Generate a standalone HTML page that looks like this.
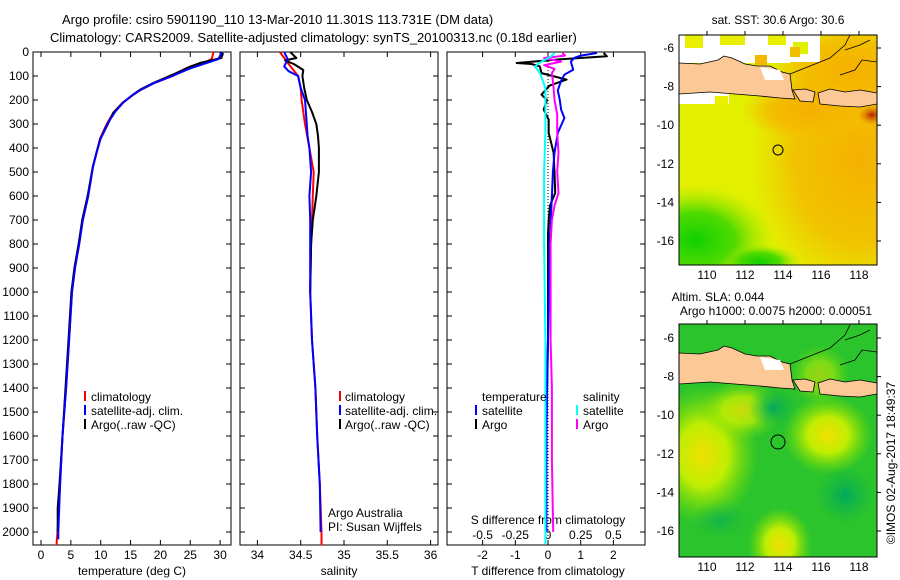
<!DOCTYPE html>
<html><head><meta charset="utf-8"><style>
body{margin:0;background:#fff;}
svg{display:block;font-family:"Liberation Sans",sans-serif;}
text{font-size:12px;fill:#000;}
</style></head><body>
<svg id="fig" width="900" height="580" viewBox="0 0 900 580">
<defs>
<clipPath id="m1clip"><rect x="679" y="35" width="198" height="230"/></clipPath>
<clipPath id="m2clip"><rect x="679" y="324" width="198" height="233"/></clipPath>
<clipPath id="p3clip"><rect x="447" y="52" width="198" height="493"/></clipPath>
<radialGradient id="gOr"><stop offset="0" stop-color="#f5b000"/><stop offset="0.6" stop-color="#f5b800" stop-opacity="0.8"/><stop offset="1" stop-color="#f5c000" stop-opacity="0"/></radialGradient>
<radialGradient id="gGr"><stop offset="0" stop-color="#10d000"/><stop offset="0.5" stop-color="#40d800" stop-opacity="0.9"/><stop offset="1" stop-color="#a0e800" stop-opacity="0"/></radialGradient>
<radialGradient id="gRed"><stop offset="0" stop-color="#b02000"/><stop offset="1" stop-color="#e07000" stop-opacity="0"/></radialGradient>
<radialGradient id="gYe"><stop offset="0" stop-color="#f0e000"/><stop offset="0.45" stop-color="#c8f000" stop-opacity="0.95"/><stop offset="1" stop-color="#80e000" stop-opacity="0"/></radialGradient>
<radialGradient id="gTe"><stop offset="0" stop-color="#00a860"/><stop offset="1" stop-color="#10b840" stop-opacity="0"/></radialGradient>
</defs>

<text x="62" y="24" style="font-size:13px">Argo profile: csiro 5901190_110 13-Mar-2010 11.301S 113.731E (DM data)</text>
<text x="50" y="42" style="font-size:13px">Climatology: CARS2009. Satellite-adjusted climatology: synTS_20100313.nc (0.18d earlier)</text>

<g id="p1"></g>
<g id="p2"></g>
<g id="p3"></g>

<g>
<rect x="84" y="391" width="2" height="10" fill="#f00"/><text x="91" y="401">climatology</text>
<rect x="84" y="405" width="2" height="10" fill="#00f"/><text x="91" y="415">satellite-adj. clim.</text>
<rect x="84" y="419" width="2" height="10" fill="#000"/><text x="91" y="429">Argo(..raw -QC)</text>
</g>
<g>
<rect x="339" y="391" width="2" height="10" fill="#f00"/><text x="345" y="401">climatology</text>
<rect x="339" y="405" width="2" height="10" fill="#00f"/><text x="345" y="415">satellite-adj. clim.</text>
<rect x="339" y="419" width="2" height="10" fill="#000"/><text x="345" y="429">Argo(..raw -QC)</text>
<text x="328" y="517">Argo Australia</text>
<text x="328" y="531">PI: Susan Wijffels</text>
</g>
<g>
<text x="482" y="401">temperature</text><text x="583" y="401">salinity</text>
<rect x="475" y="405" width="2" height="10" fill="#00f"/><text x="482" y="415">satellite</text>
<rect x="475" y="419" width="2" height="10" fill="#000"/><text x="482" y="429">Argo</text>
<rect x="576" y="405" width="2" height="10" fill="#0ff"/><text x="583" y="415">satellite</text>
<rect x="576" y="419" width="2" height="10" fill="#f0f"/><text x="583" y="429">Argo</text>
</g>

<!-- map 1 -->
<text x="778" y="24" text-anchor="middle">sat. SST: 30.6 Argo: 30.6</text>
<g clip-path="url(#m1clip)">
<rect x="679" y="35" width="198" height="230" fill="#e2f000"/>
<ellipse cx="860" cy="160" rx="110" ry="140" fill="url(#gOr)"/>
<ellipse cx="850" cy="70" rx="80" ry="50" fill="url(#gOr)"/>
<ellipse cx="810" cy="110" rx="70" ry="30" fill="url(#gOr)"/>
<ellipse cx="872" cy="115" rx="14" ry="10" fill="url(#gRed)"/>
<ellipse cx="695" cy="240" rx="80" ry="55" fill="url(#gGr)"/>
<ellipse cx="760" cy="262" rx="40" ry="18" fill="url(#gGr)"/>
<path d="M679,35 H790 V63 H679Z" fill="#fff"/>
<rect x="685" y="35" width="18" height="13" fill="#e8f000"/><rect x="720" y="35" width="25" height="10" fill="#e8f000"/>
<rect x="768" y="35" width="18" height="10" fill="#e8f000"/><rect x="790" y="42" width="22" height="12" fill="#d8f000"/>
<rect x="790" y="35" width="30" height="27" fill="#fff"/><rect x="793" y="42" width="15" height="12" fill="#dcf000"/>
<rect x="755" y="55" width="12" height="10" fill="#f5b800"/><rect x="790" y="47" width="10" height="10" fill="#f0c000"/>
<rect x="679" y="82" width="50" height="22" fill="#fff"/>
<rect x="715" y="96" width="13" height="8" fill="#e8f000"/>
</g>
<g id="land1" clip-path="url(#m1clip)">
<path d="M679,63 L700,64 L718,60 L724,56 L732,58 L745,64 L757,66 L770,66 L782,72 L790,74 L792,90 L795,99 L780,98 L760,96 L735,94 L710,92 L679,94Z" fill="#fcc896" stroke="#000" stroke-width="0.8"/>
<path d="M760,67 L780,70 L784,80 L765,80Z" fill="#fff"/>
<path d="M793,90 L805,89 L815,92 L813,102 L800,101Z" fill="#fcc896" stroke="#000" stroke-width="0.8"/>
<path d="M818,93 L830,89 L845,92 L860,90 L877,93 L877,104 L860,107 L840,106 L820,104Z" fill="#fcc896" stroke="#000" stroke-width="0.8"/>
<path d="M790,74 L810,66 L830,58 L845,45 L850,35 M840,75 L855,70 L862,60 L877,62 M845,50 L860,45 L870,40" fill="none" stroke="#000" stroke-width="0.8"/>
</g>
<circle cx="778" cy="150" r="5" fill="none" stroke="#000"/>
<rect x="679" y="35" width="198" height="230" fill="none" stroke="#000"/>
<g id="m1ax"></g>

<!-- map 2 -->
<text x="718" y="301" text-anchor="middle">Altim. SLA: 0.044</text>
<text x="776" y="315" text-anchor="middle">Argo h1000: 0.0075 h2000: 0.00051</text>
<g clip-path="url(#m2clip)">
<rect x="679" y="324" width="198" height="233" fill="#2cc42c"/>
<ellipse cx="703" cy="455" rx="55" ry="70" fill="url(#gYe)"/>
<ellipse cx="742" cy="410" rx="42" ry="30" fill="url(#gYe)" opacity="0.8"/>
<ellipse cx="828" cy="435" rx="45" ry="40" fill="url(#gYe)"/>
<ellipse cx="780" cy="545" rx="32" ry="38" fill="url(#gYe)"/>
<ellipse cx="820" cy="375" rx="30" ry="30" fill="url(#gYe)" opacity="0.55"/>
<ellipse cx="773" cy="408" rx="25" ry="22" fill="url(#gTe)"/>
<ellipse cx="845" cy="495" rx="30" ry="30" fill="url(#gTe)"/>
<ellipse cx="720" cy="520" rx="30" ry="20" fill="url(#gTe)" opacity="0.6"/>
</g>
<use href="#land1" transform="translate(0,290)"/>
<circle cx="778" cy="442" r="7" fill="none" stroke="#000"/>
<rect x="679" y="324" width="198" height="233" fill="none" stroke="#000"/>
<g id="m2ax"></g>

<text transform="translate(895,463) rotate(-90)" text-anchor="middle">©IMOS 02-Aug-2017 18:49:37</text>
</svg>
<script>
// ---- data ----
const tempDepthClim = [0,30,40,60,80,100,130,160,180,210,250,300,360,420,480,600,700,800,900,1000,1200,1400,1600,1800,1950,2055];
const tempClim      = [28.9,28.6,27.7,25.0,23.4,22.1,18.9,16.6,15.4,13.7,12.2,11.0,9.9,9.3,8.7,7.9,7.0,6.4,5.7,5.2,4.7,4.2,3.6,3.2,2.9,2.6];
const tempDepthSat  = [0,30,50,70,100,130,160,180,210,250,300,360,420,480,600,700,800,900,1000,1200,1400,1600,1800,2000,2030];
const tempSat       = [30.3,29.7,27.2,24.8,22.0,18.9,16.5,15.3,13.8,12.4,11.1,10.0,9.3,8.7,7.9,7.0,6.4,5.7,5.2,4.7,4.2,3.6,3.2,2.9,2.9];
const tempDepthArgo = [4,25,46,67,94,129,157,178,212,254,310,365,420,476,600,700,800,900,1000,1200,1400,1600,1800,1900,2000];
const tempArgo      = [30.5,30.2,26.6,24.4,22.1,18.8,16.6,15.4,13.7,12.1,11.0,9.9,9.3,8.7,7.8,6.9,6.3,5.6,5.1,4.6,4.1,3.6,3.1,2.8,2.8];

const salDepthClim = [0,50,100,150,200,300,400,500,600,700,800,1000,1200,1400,1600,1800,2000,2055];
const salClim      = [34.26,34.36,34.47,34.50,34.51,34.55,34.60,34.65,34.64,34.63,34.62,34.61,34.63,34.67,34.69,34.72,34.74,34.74];
const salDepthSat  = [0,30,60,80,100,150,200,300,350,400,500,600,700,1000,1200,1400,1600,1800,2000];
const salSat       = [34.31,34.35,34.31,34.36,34.47,34.50,34.55,34.57,34.58,34.60,34.62,34.60,34.61,34.61,34.63,34.67,34.69,34.72,34.73];
const salDepthArgo = [0,15,25,35,50,75,100,150,200,250,300,350,400,500,600,650,700,800,1000];
const salArgo      = [34.38,34.42,34.45,34.32,34.42,34.53,34.52,34.54,34.57,34.63,34.68,34.70,34.71,34.71,34.68,34.66,34.64,34.62,34.61];

const tdDepthArgo = [4,18,30,46,50,60,88,115,140,178,200,240,282,337,420,500,587,640,700,754,900,1200,1500,1700];
const tdArgo      = [1.7,1.8,0.4,-0.96,-0.5,-0.25,-0.2,0.57,0.05,-0.2,-0.03,-0.13,0.02,0.02,0.17,0.2,0.22,0.06,0.02,0,0,0,-0.05,-0.05];
const tdDepthSat  = [4,15,25,40,74,94,120,160,200,240,275,337,420,500,600,800,1200,1600,2000];
const tdSat       = [1.5,1.0,0.8,0.7,0.77,0.5,0.4,0.3,0.36,0.4,0.5,0.3,0.2,0.15,0.12,0.05,0,-0.05,-0.05];
const sdDepthSat  = [4,20,40,60,90,150,200,337,500,800,1200,1600,2000,2050];
const sdSat       = [0.05,0.02,-0.05,-0.1,-0.06,-0.02,-0.02,-0.02,-0.03,-0.03,-0.02,-0.02,-0.02,-0.02];
const sdDepthArgo = [4,15,25,40,55,70,88,130,200,260,337,420,500,587,640,700,800,1200,1400,1700,2000];
const sdArgo      = [0.11,0.13,-0.03,0.1,-0.03,0.05,0.03,0.04,0.05,0.07,0.07,0.08,0.07,0.08,0.05,0.03,0.02,0.02,0.03,0.03,0.04];

const depthTicks = [0,100,200,300,400,500,600,700,800,900,1000,1100,1200,1300,1400,1500,1600,1700,1800,1900,2000];
const tempTicks = [0,5,10,15,20,25,30];
const salTicks = [34,34.5,35,35.5,36];
const salTickLabels = ["34","34.5","35","35.5","36"];
const tdTicks = [-2,-1,0,1,2];
const sdTicks = [-0.5,-0.25,0,0.25,0.5];
const sdTickLabels = ["-0.5","-0.25","0","0.25","0.5"];
const lonTicks = [110,112,114,116,118];
const latTicks = [-6,-8,-10,-12,-14,-16];

// ---- scales ----
const TOP=52, BOT=545;
const yD = d => TOP + d*0.24;
const xT = t => 41 + t*5.97;
const xS = s => 257.4 + (s-34)*86.6;
const xTD = t => 548 + t*32.7;
const xSD = s => 548 + s*130.8;
const xLon = l => 707 + (l-110)*19;
const yLat1 = l => 48 + (-6-l)*19.3;
const yLat2 = l => 338 + (-6-l)*19.3;

const NS="http://www.w3.org/2000/svg";
function mk(tag, attrs, parent){const e=document.createElementNS(NS,tag);for(const k in attrs)e.setAttribute(k,attrs[k]);parent.appendChild(e);return e;}

function frame(g,x0,x1){
  const r=mk('rect',{x:x0,y:TOP,width:x1-x0,height:BOT-TOP,fill:'none',stroke:'#000'},g);
  
  
  depthTicks.forEach(d=>{
    mk('line',{x1:x0,x2:x0+5,y1:yD(d),y2:yD(d),stroke:'#000'},g);
    mk('line',{x1:x1,x2:x1-5,y1:yD(d),y2:yD(d),stroke:'#000'},g);
  });
}
function xticks(g,vals,labels,fx,ly){
  vals.forEach((v,i)=>{
    mk('line',{x1:fx(v),x2:fx(v),y1:TOP,y2:TOP+5,stroke:'#000'},g);
    mk('line',{x1:fx(v),x2:fx(v),y1:BOT,y2:BOT-5,stroke:'#000'},g);
    const t=mk('text',{x:fx(v),y:ly,'text-anchor':'middle'},g);
    t.textContent=labels[i];
    
    
  });
}
function line(g,depths,vals,fx,color,name,clip){
  const pts=depths.map((d,i)=>fx(vals[i]).toFixed(1)+','+yD(d).toFixed(1)).join(' ');
  const p=mk('polyline',{points:pts,fill:'none',stroke:color,'stroke-width':2,'stroke-linejoin':'round'},g);
  if(clip)p.setAttribute('clip-path',clip);
  
  
}
function title(g,x,txt,name){
  const t=mk('text',{x:x,y:575,'text-anchor':'middle'},g);
  t.textContent=txt;
  
  
}

const p1=document.getElementById('p1');
frame(p1,33,231);
depthTicks.forEach(d=>{const t=mk('text',{x:29,y:yD(d)+4,'text-anchor':'end'},p1);t.textContent=d;
  
  });
xticks(p1,tempTicks,tempTicks.map(String),xT,559);
title(p1,132,'temperature (deg C)','temperature-axis-title');
line(p1,tempDepthClim,tempClim,xT,'#f00','temp-climatology-line');
line(p1,tempDepthArgo,tempArgo,xT,'#000','temp-argo-line');
line(p1,tempDepthSat,tempSat,xT,'#00f','temp-satellite-line');

const p2=document.getElementById('p2');
frame(p2,240,438);
xticks(p2,salTicks,salTickLabels,xS,559);
title(p2,339,'salinity','salinity-axis-title');
line(p2,salDepthClim,salClim,xS,'#f00','sal-climatology-line');
line(p2,salDepthArgo,salArgo,xS,'#000','sal-argo-line');
line(p2,salDepthSat,salSat,xS,'#00f','sal-satellite-line');

const p3=document.getElementById('p3');
frame(p3,447,645);
xticks(p3,tdTicks,tdTicks.map(String),xTD,559);
sdTicks.forEach((v,i)=>{const t=mk('text',{x:xSD(v),y:539,'text-anchor':'middle'},p3);t.textContent=sdTickLabels[i];
  
  });
const st=mk('text',{x:548,y:524,'text-anchor':'middle'},p3);st.textContent='S difference from climatology';


title(p3,548,'T difference from climatology','t-diff-axis-title');
const zl=mk('line',{x1:xTD(0),x2:xTD(0),y1:TOP,y2:BOT,stroke:'#000','stroke-dasharray':'1,2'},p3);


line(p3,tdDepthArgo,tdArgo,xTD,'#000','tdiff-argo-line','url(#p3clip)');
line(p3,tdDepthSat,tdSat,xTD,'#00f','tdiff-satellite-line','url(#p3clip)');
line(p3,sdDepthArgo,sdArgo,xSD,'#f0f','sdiff-argo-line','url(#p3clip)');
line(p3,sdDepthSat,sdSat,xSD,'#0ff','sdiff-satellite-line','url(#p3clip)');

function mapAxes(id,yLat,yTop,yBot){
  const g=document.getElementById(id);
  lonTicks.forEach(l=>{
    mk('line',{x1:xLon(l),x2:xLon(l),y1:yTop,y2:yTop-4,stroke:'#000'},g);
    const t=mk('text',{x:xLon(l),y:yBot+14,'text-anchor':'middle'},g);t.textContent=l;
    
    
  });
  latTicks.forEach(l=>{
    mk('line',{x1:877,x2:881,y1:yLat(l),y2:yLat(l),stroke:'#000'},g);
    const t=mk('text',{x:674,y:yLat(l)+4,'text-anchor':'end'},g);t.textContent=l;
    
    
  });
}
mapAxes('m1ax',yLat1,35,265);
mapAxes('m2ax',yLat2,324,557);
</script>
</body></html>
